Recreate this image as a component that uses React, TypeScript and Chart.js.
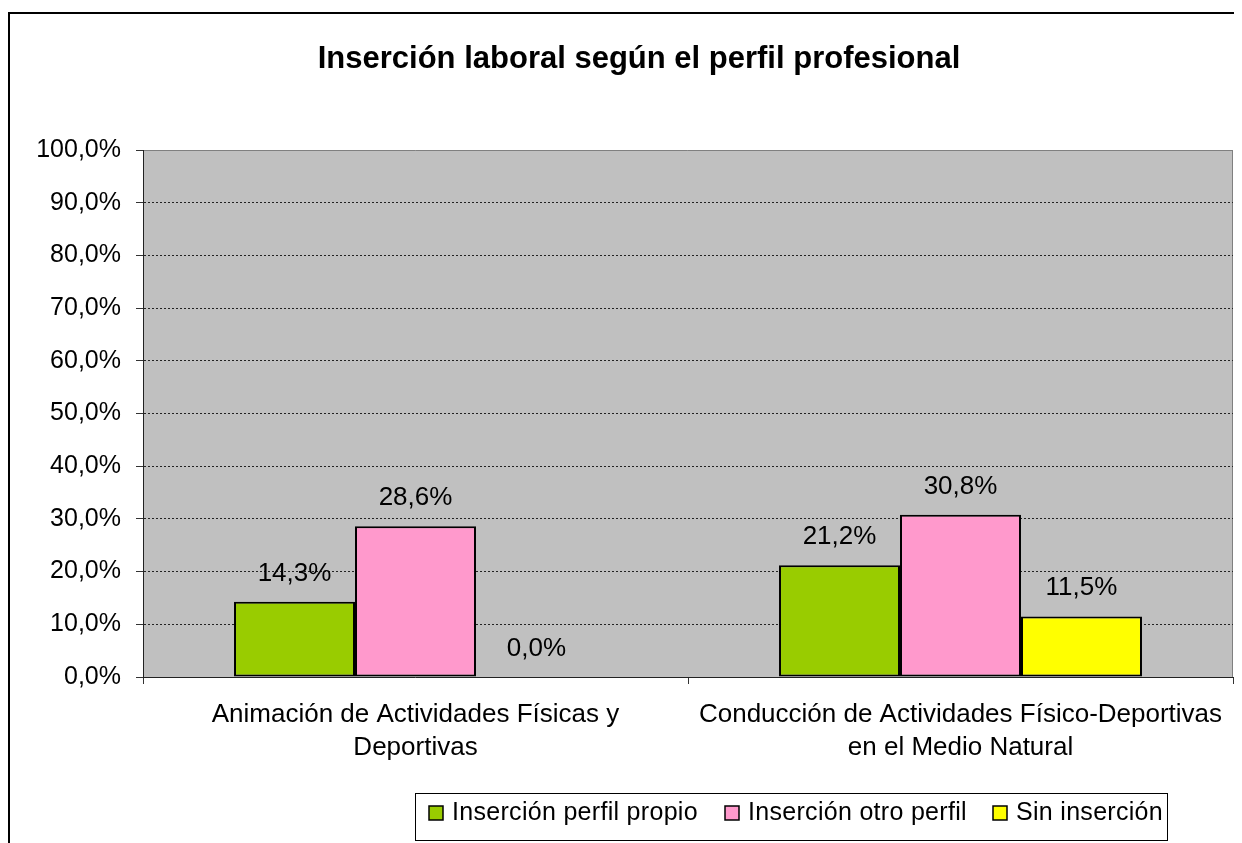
import React, { useEffect, useRef } from 'react';
import { Chart, registerables } from 'chart.js';

Chart.register(...registerables);

const chartTitle = 'Inserción laboral según el perfil profesional';
const categories: string[][] = [
  ['Animación de Actividades Físicas y', 'Deportivas'],
  ['Conducción de Actividades Físico-Deportivas', 'en el Medio Natural'],
];
const seriesNames = ['Inserción perfil propio', 'Inserción otro perfil', 'Sin inserción'];
const perfilPropio = [14.3, 21.2];
const otroPerfil = [28.6, 30.8];
const sinInsercion = [0.0, 11.5];
const seriesColors = ['#99CC00', '#FF99CC', '#FFFF00'];
const yMin = 0;
const yMax = 100;
const yStep = 10;

const FONT = '"Liberation Sans", Arial, sans-serif';
const fmt = (v: number) => v.toFixed(1).replace('.', ',') + '%';

const W = 1234;
const H = 835;

const decorPlugin = {
  id: 'decor',
  beforeDraw(chart: any) {
    const { ctx, chartArea } = chart;
    ctx.save();
    ctx.fillStyle = '#FFFFFF';
    ctx.fillRect(0, 0, chart.width, chart.height);
    // outer frame (cropped on right and bottom)
    ctx.strokeStyle = '#000000';
    ctx.lineWidth = 2;
    ctx.beginPath();
    ctx.moveTo(1, chart.height + 5);
    ctx.lineTo(1, 5);
    ctx.lineTo(chart.width + 5, 5);
    ctx.stroke();
    // plot area
    ctx.fillStyle = '#C0C0C0';
    ctx.fillRect(chartArea.left, chartArea.top, chartArea.right - chartArea.left, chartArea.bottom - chartArea.top);
    ctx.strokeStyle = '#808080';
    ctx.lineWidth = 1;
    ctx.beginPath();
    ctx.moveTo(chartArea.left, chartArea.top + 0.5);
    ctx.lineTo(chartArea.right - 0.5, chartArea.top + 0.5);
    ctx.lineTo(chartArea.right - 0.5, chartArea.bottom);
    ctx.stroke();
    // title
    ctx.fillStyle = '#000000';
    ctx.font = `bold 31px ${FONT}`;
    ctx.textAlign = 'center';
    ctx.textBaseline = 'alphabetic';
    ctx.fillText(chartTitle, 631, 60);
    ctx.restore();
  },
  afterDatasetsDraw(chart: any) {
    const { ctx } = chart;
    ctx.save();
    // data labels
    ctx.fillStyle = '#000000';
    ctx.font = `26px ${FONT}`;
    ctx.textAlign = 'center';
    ctx.textBaseline = 'alphabetic';
    chart.data.datasets.forEach((ds: any, di: number) => {
      const meta = chart.getDatasetMeta(di);
      meta.data.forEach((el: any, i: number) => {
        ctx.fillText(fmt(ds.data[i]), el.x, el.y - 21);
      });
    });
    // legend
    const box = { x: 407, y: 785, w: 752, h: 47 };
    ctx.fillStyle = '#FFFFFF';
    ctx.fillRect(box.x, box.y, box.w, box.h);
    ctx.strokeStyle = '#000000';
    ctx.lineWidth = 1;
    ctx.strokeRect(box.x + 0.5, box.y + 0.5, box.w, box.h);
    const itemX = [421, 717, 985];
    ctx.font = `25px ${FONT}`;
    try { (ctx as any).letterSpacing = '0.3px'; } catch (e) { /* ignore */ }
    ctx.textAlign = 'left';
    ctx.textBaseline = 'middle';
    chart.data.datasets.forEach((ds: any, di: number) => {
      const x = itemX[di];
      ctx.fillStyle = ds.backgroundColor;
      ctx.fillRect(x, 798, 14, 14);
      ctx.strokeStyle = '#000000';
      ctx.lineWidth = 1.5;
      ctx.strokeRect(x, 798, 14, 14);
      ctx.fillStyle = '#000000';
      ctx.fillText(ds.label, x + 23, 805);
    });
    ctx.restore();
  },
};

export default function App() {
  const ref = useRef<HTMLCanvasElement | null>(null);
  useEffect(() => {
    if (!ref.current) return;
    const seriesValues = [perfilPropio, otroPerfil, sinInsercion];
    const chart = new Chart(ref.current, {
      type: 'bar',
      data: {
        labels: categories as any,
        datasets: seriesNames.map((name, i) => ({
          label: name,
          data: seriesValues[i],
          backgroundColor: seriesColors[i],
          borderColor: '#000000',
          borderWidth: 2,
          borderSkipped: false,
          categoryPercentage: 0.666,
          barPercentage: 1,
        })),
      },
      options: {
        animation: false,
        responsive: false,
        devicePixelRatio: 1,
        layout: { padding: { top: 142, right: 9, left: 0, bottom: 0 } },
        plugins: {
          legend: { display: false },
          title: { display: false },
          tooltip: { enabled: false },
        },
        scales: {
          x: {
            afterFit: (s: any) => { s.height = 166; },
            grid: {
              offset: true,
              drawOnChartArea: false,
              drawTicks: true,
              tickLength: 7,
              tickColor: '#333333',
              tickBorderDash: [],
            },
            border: { color: '#222222', width: 1 },
            ticks: {
              color: '#000000',
              font: { family: FONT, size: 26, lineHeight: 33 / 26 },
              padding: 14,
              maxRotation: 0,
              autoSkip: false,
            },
          },
          y: {
            min: yMin,
            max: yMax,
            afterFit: (s: any) => { s.width = 135; },
            grid: {
              color: (c: any) => (c.tick && c.tick.value === yMax ? '#808080' : '#222222'),
              drawTicks: true,
              tickLength: 7,
              tickColor: '#333333',
              tickBorderDash: [],
            },
            border: { color: '#222222', width: 1, dash: [2, 2] },
            ticks: {
              stepSize: yStep,
              color: '#000000',
              font: { family: FONT, size: 25 },
              padding: 15,
              callback: (v: any) => fmt(Number(v)),
            },
          },
        },
      },
      plugins: [decorPlugin],
    });
    return () => chart.destroy();
  }, []);
  return (
    <div style={{ width: W, height: H }}>
      <canvas ref={ref} width={W} height={H} style={{ display: 'block', width: W, height: H }} />
    </div>
  );
}
